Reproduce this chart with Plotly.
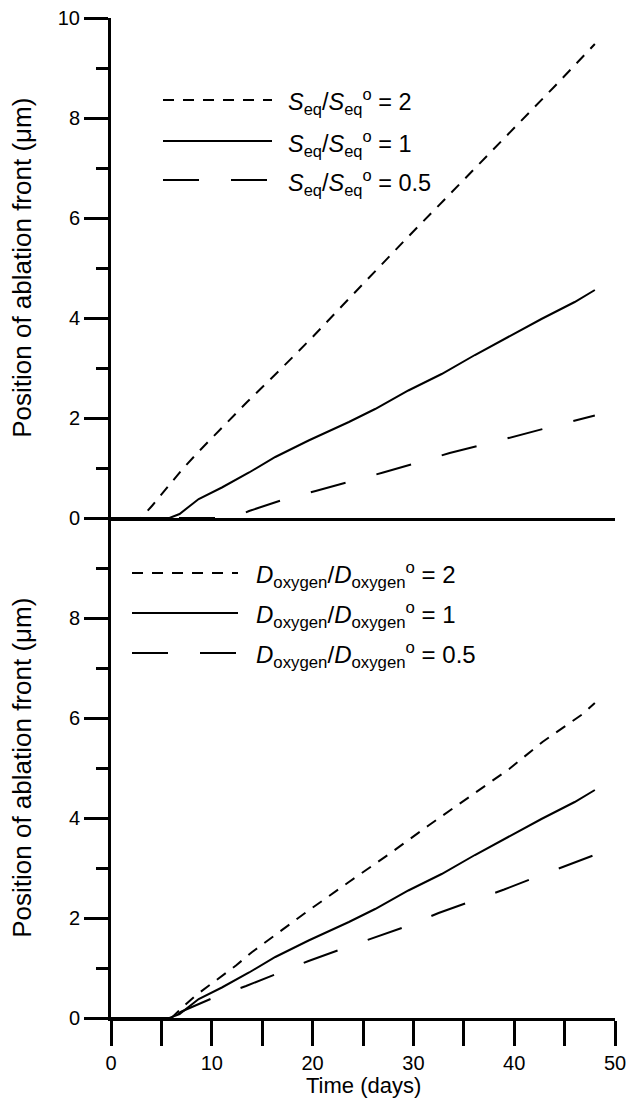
import plotly.graph_objects as go

# ---------------- data ----------------
# Top panel: effect of equilibrium solubility ratio
t_seq2 = [0, 3.0, 4.1, 5.5, 7.1, 8.8, 10.4, 13.5, 16.7, 20.0, 23.1, 26.3, 29.6, 33.0, 36.0, 40.0, 44.0, 48.0]
v_seq2 = [0, 0, 0.25, 0.58, 0.98, 1.35, 1.68, 2.32, 2.95, 3.62, 4.28, 4.96, 5.65, 6.35, 6.97, 7.80, 8.63, 9.48]

t_base = [0, 5.8, 6.8, 8.7, 11.0, 13.7, 16.3, 19.6, 23.6, 26.2, 29.5, 32.8, 36.1, 39.4, 42.7, 46.0, 48.0]
v_base = [0, 0, 0.08, 0.38, 0.61, 0.91, 1.22, 1.55, 1.92, 2.18, 2.55, 2.88, 3.26, 3.62, 3.98, 4.32, 4.56]

t_seq05 = [0, 12.0, 13.7, 17.0, 20.3, 23.7, 27.0, 30.3, 33.6, 37.0, 40.3, 43.6, 48.0]
v_seq05 = [0, 0, 0.14, 0.36, 0.54, 0.72, 0.91, 1.10, 1.30, 1.47, 1.65, 1.82, 2.05]

# Bottom panel: effect of oxygen diffusivity ratio
t_d2 = [0, 6.0, 7.0, 8.4, 10.4, 12.4, 14.0, 16.0, 19.6, 23.6, 27.6, 31.5, 35.5, 39.5, 42.8, 46.8, 48.0]
v_d2 = [0, 0, 0.20, 0.45, 0.75, 1.05, 1.32, 1.62, 2.15, 2.72, 3.28, 3.85, 4.42, 4.98, 5.52, 6.08, 6.30]

t_d05 = [0, 6.0, 7.0, 10.1, 13.4, 16.7, 19.6, 22.9, 26.1, 29.4, 32.5, 35.8, 39.0, 42.3, 45.5, 48.5]
v_d05 = [0, 0, 0.13, 0.40, 0.64, 0.90, 1.14, 1.38, 1.60, 1.84, 2.10, 2.34, 2.57, 2.83, 3.07, 3.30]

legend_top = ["<i>S</i><sub>eq</sub>/<i>S</i><sub>eq</sub><sup>o</sup> = 2",
              "<i>S</i><sub>eq</sub>/<i>S</i><sub>eq</sub><sup>o</sup> = 1",
              "<i>S</i><sub>eq</sub>/<i>S</i><sub>eq</sub><sup>o</sup> = 0.5"]
legend_bot = ["<i>D</i><sub>oxygen</sub>/<i>D</i><sub>oxygen</sub><sup>o</sup> = 2",
              "<i>D</i><sub>oxygen</sub>/<i>D</i><sub>oxygen</sub><sup>o</sup> = 1",
              "<i>D</i><sub>oxygen</sub>/<i>D</i><sub>oxygen</sub><sup>o</sup> = 0.5"]

x_ticks = [0, 10, 20, 30, 40, 50]
x_minor = [5, 15, 25, 35, 45]
y_ticks_top = [0, 2, 4, 6, 8, 10]
y_ticks_bot = [0, 2, 4, 6, 8]
y_minor = [1, 3, 5, 7, 9]

y_title = "Position of ablation front (\u03bcm)"
x_title = "Time (days)"

# ---------------- styles ----------------
FONT = "Liberation Sans, Arial, Helvetica, sans-serif"
SHORT = "11px,9px"
LONG = "36px,32px"
LW = 2

fig = go.Figure()

line_style = dict(color="black", width=LW)
fig.add_trace(go.Scatter(x=t_seq2, y=v_seq2, mode="lines", xaxis="x2", yaxis="y2",
                         line=dict(line_style, dash=SHORT), showlegend=False))
fig.add_trace(go.Scatter(x=t_base, y=v_base, mode="lines", xaxis="x2", yaxis="y2",
                         line=dict(line_style, dash="solid"), showlegend=False))
fig.add_trace(go.Scatter(x=t_seq05, y=v_seq05, mode="lines", xaxis="x2", yaxis="y2",
                         line=dict(line_style, dash=LONG), showlegend=False))

fig.add_trace(go.Scatter(x=t_d2, y=v_d2, mode="lines", xaxis="x", yaxis="y",
                         line=dict(line_style, dash=SHORT), showlegend=False))
fig.add_trace(go.Scatter(x=t_base, y=v_base, mode="lines", xaxis="x", yaxis="y",
                         line=dict(line_style, dash="solid"), showlegend=False))
fig.add_trace(go.Scatter(x=t_d05, y=v_d05, mode="lines", xaxis="x", yaxis="y",
                         line=dict(line_style, dash=LONG), showlegend=False))

axis_common = dict(showline=True, linewidth=3, linecolor="black", showgrid=False,
                   zeroline=False, tickwidth=3, tickcolor="black", automargin=False,
                   tickfont=dict(family=FONT, size=20, color="black"))
minor_common = dict(tickwidth=3, tickcolor="black", showgrid=False)

fig.update_layout(
    template="none",
    width=630, height=1106,
    margin=dict(l=111, r=15, t=18, b=88, autoexpand=False),
    paper_bgcolor="white", plot_bgcolor="white",
    font=dict(family=FONT, size=20, color="black"),
    showlegend=False,
    # bottom panel
    xaxis=dict(axis_common, domain=[0, 1], anchor="y", range=[0, 50], side="bottom",
               ticks="outside", ticklen=25, tickmode="array", tickvals=x_ticks,
               minor=dict(minor_common, tickmode="array", tickvals=x_minor,
                          ticks="outside", ticklen=25)),
    xaxis3=dict(axis_common, overlaying="x", anchor="y", range=[0, 50], side="top",
                ticks="inside", ticklen=24, tickmode="array", tickvals=x_ticks + x_minor,
                showticklabels=False),
    yaxis=dict(axis_common, domain=[0, 0.5], anchor="x", range=[0, 10],
               ticks="outside", ticklen=24, tickmode="array", tickvals=y_ticks_bot,
               minor=dict(minor_common, tickmode="array", tickvals=y_minor,
                          ticks="outside", ticklen=12)),
    yaxis3=dict(axis_common, overlaying="y", anchor="x", side="right", range=[0, 10],
                ticks="inside", ticklen=24, tickmode="array", tickvals=y_ticks_top,
                showticklabels=False,
                minor=dict(minor_common, tickmode="array", tickvals=y_minor,
                           ticks="inside", ticklen=12)),
    # top panel
    xaxis2=dict(axis_common, domain=[0, 1], anchor="y2", range=[0, 50], side="bottom",
                ticks="", showticklabels=False),
    xaxis4=dict(axis_common, overlaying="x2", anchor="y2", range=[0, 50], side="top",
                ticks="inside", ticklen=23, tickmode="array", tickvals=x_ticks + x_minor,
                showticklabels=False),
    yaxis2=dict(axis_common, domain=[0.5, 1], anchor="x2", range=[0, 10],
                ticks="outside", ticklen=24, tickmode="array", tickvals=y_ticks_top,
                minor=dict(minor_common, tickmode="array", tickvals=y_minor,
                           ticks="outside", ticklen=12)),
    yaxis4=dict(axis_common, overlaying="y2", anchor="x2", side="right", range=[0, 10],
                ticks="inside", ticklen=24, tickmode="array", tickvals=y_ticks_top,
                showticklabels=False,
                minor=dict(minor_common, tickmode="array", tickvals=y_minor,
                           ticks="inside", ticklen=12)),
)

# axis titles
for yc in (0.75, 0.25):
    fig.add_annotation(text=y_title, xref="paper", yref="paper", x=-0.177, y=yc,
                       textangle=-90, showarrow=False, xanchor="center", yanchor="middle",
                       font=dict(family=FONT, size=26, color="black"))
fig.add_annotation(text=x_title, xref="paper", yref="paper", x=0.5, y=-0.067,
                   showarrow=False, xanchor="center", yanchor="middle",
                   font=dict(family=FONT, size=22, color="black"))

# legend keys (decoration in paper coordinates)
PLOT_L, PLOT_W, PLOT_B, PLOT_H = 111, 504, 1018, 1000
def px(xp):
    return (xp - PLOT_L) / PLOT_W
def py(yp):
    return (PLOT_B - yp) / PLOT_H

key_dash = [SHORT, "solid", LONG]
top_rows = [100, 141, 180]
bot_rows = [573, 613, 653]
for i in range(3):
    fig.add_shape(type="line", xref="paper", yref="paper",
                  x0=px(163), x1=px(272), y0=py(top_rows[i]), y1=py(top_rows[i]),
                  line=dict(color="black", width=LW, dash=key_dash[i]))
    fig.add_annotation(text=legend_top[i], xref="paper", yref="paper",
                       x=px(286), y=py(top_rows[i] + 2), showarrow=False,
                       xanchor="left", yanchor="middle",
                       font=dict(family=FONT, size=23.5, color="black"))
    fig.add_shape(type="line", xref="paper", yref="paper",
                  x0=px(132), x1=px(238), y0=py(bot_rows[i]), y1=py(bot_rows[i]),
                  line=dict(color="black", width=LW, dash=key_dash[i]))
    fig.add_annotation(text=legend_bot[i], xref="paper", yref="paper",
                       x=px(254), y=py(bot_rows[i] + 2), showarrow=False,
                       xanchor="left", yanchor="middle",
                       font=dict(family=FONT, size=24, color="black"))

fig.write_html(
    "out.html",
    config={"displayModeBar": False},
    post_script="document.body.style.margin='0';document.body.style.padding='0';"
                "document.documentElement.style.overflow='hidden';",
)
